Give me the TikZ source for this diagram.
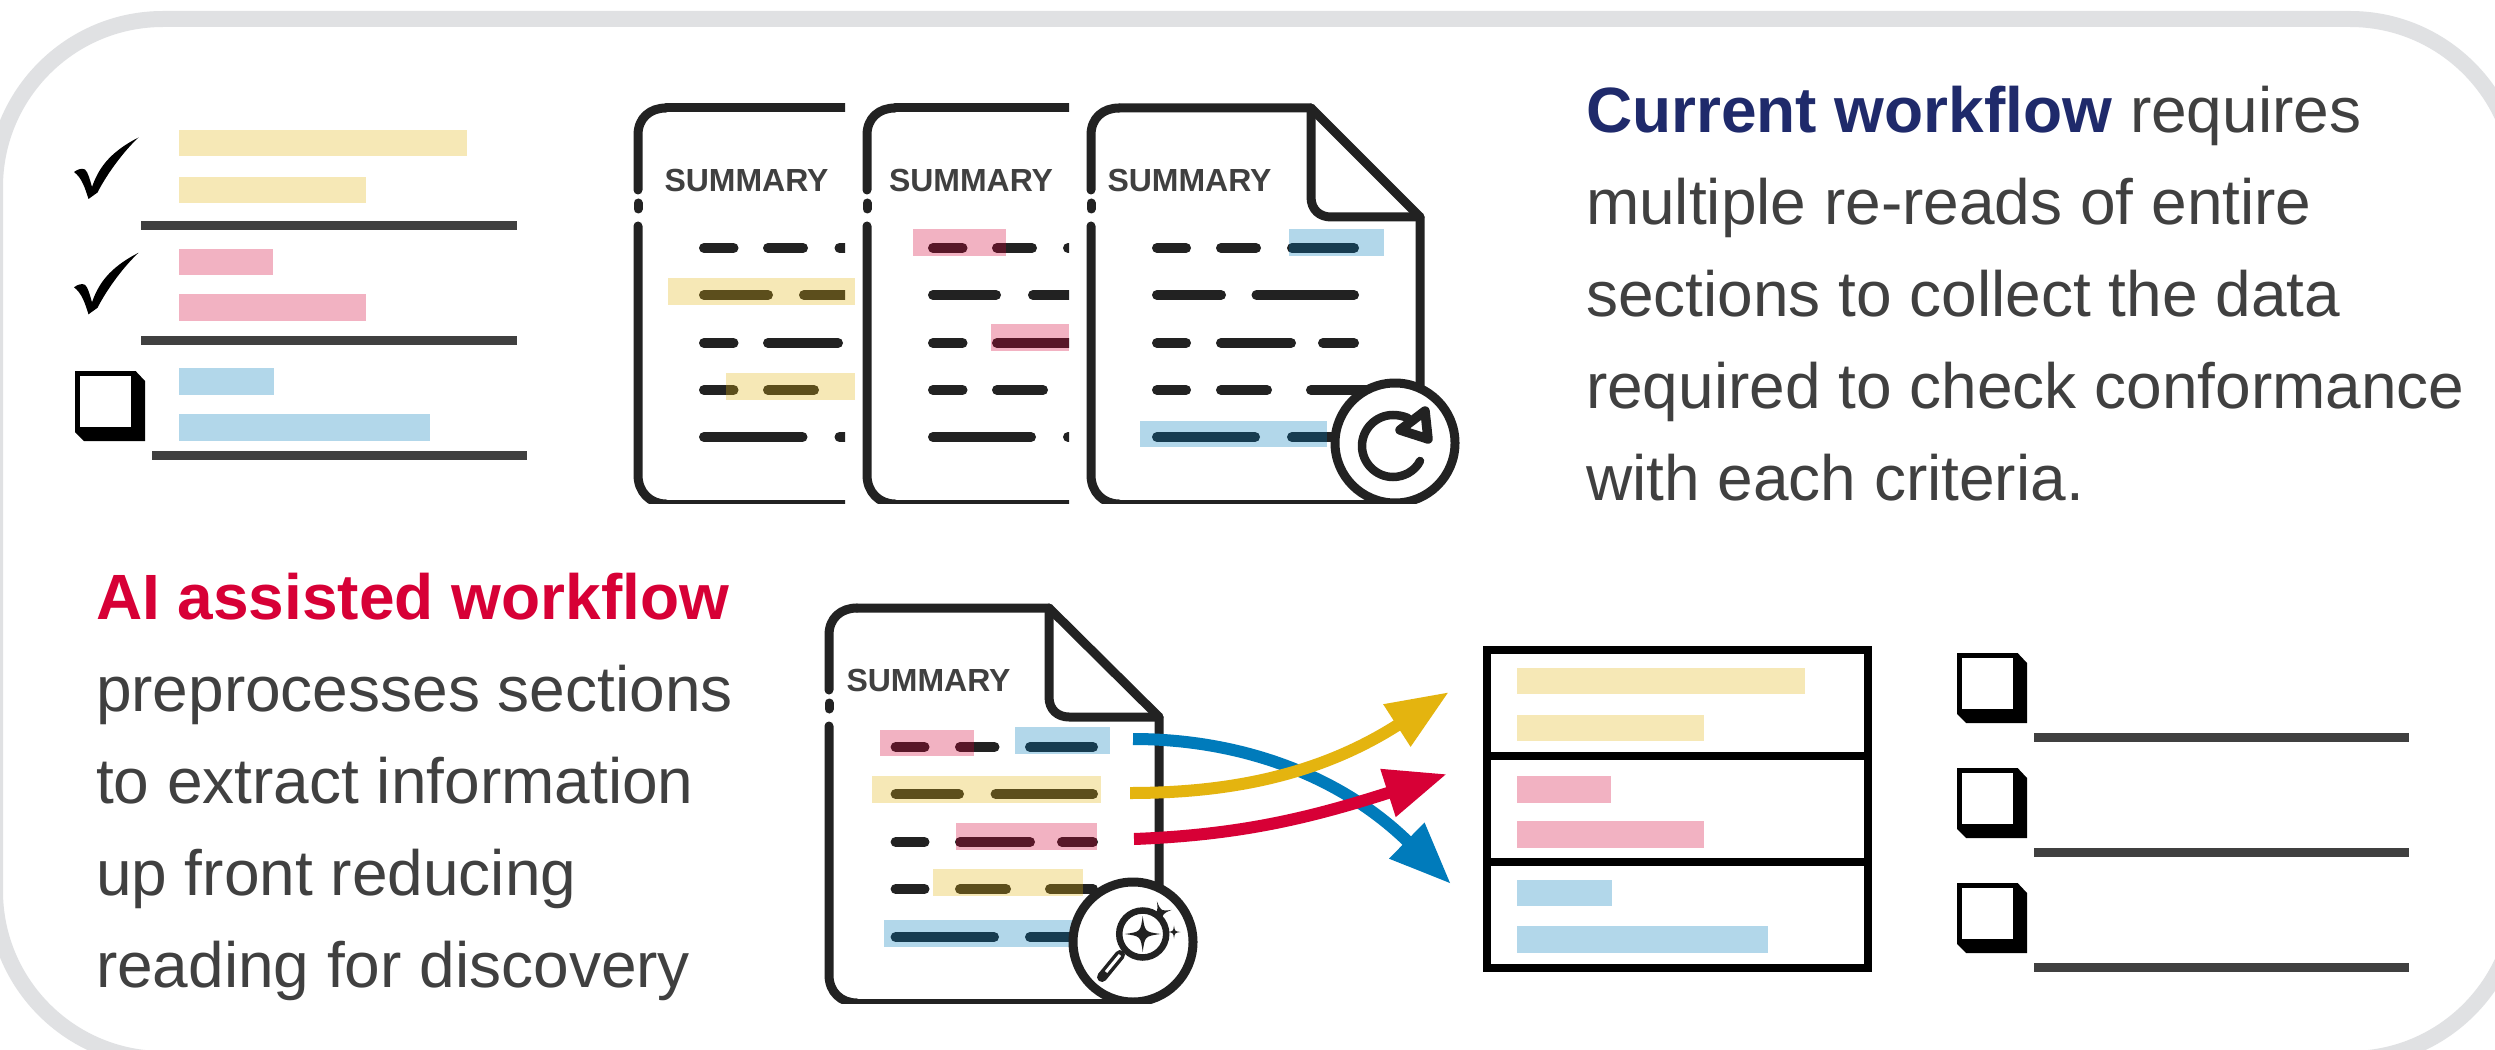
\documentclass[tikz,border=0pt]{standalone}
\usepackage{fontspec}
\setmainfont[Ligatures=NoCommon]{Liberation Sans}
\usetikzlibrary{arrows.meta}
\definecolor{framegray}{HTML}{E0E1E3}
\definecolor{txtgray}{HTML}{404040}
\definecolor{docdark}{HTML}{222222}
\definecolor{hlyellow}{HTML}{E4B40F}
\definecolor{hlred}{HTML}{D70036}
\definecolor{hlblue}{HTML}{007BBB}
\definecolor{navy}{HTML}{1F2A6B}
\tikzset{
  x=0.1mm, y=-0.1mm,
  frameline/.style={draw=framegray, line width=1.6mm},
  docline/.style={draw=docdark, line width=0.9mm, line join=round, line cap=round},
  dashseg/.style={draw=docdark, line width=1mm, line cap=round},
  yel/.style={fill=hlyellow, fill opacity=0.3},
  pnk/.style={fill=hlred, fill opacity=0.3},
  blu/.style={fill=hlblue, fill opacity=0.3},
  rulebar/.style={fill=txtgray},
  boxline/.style={draw=black, line width=0.8mm},
  bodytext/.style={inner sep=0pt, outer sep=0pt, align=left, text=txtgray, font=\fontsize{18.21}{26.18}\selectfont},
  doctitle/.style={inner sep=0pt, outer sep=0pt, anchor=base west, text=txtgray, font=\fontsize{9.1}{11}\selectfont\bfseries},
  flowarrow/.style={line width=1.2mm, -{Triangle[length=6.2mm,width=4.7mm]}},
  iconring/.style={draw=docdark, fill=white, line width=0.9mm},
}
\newcommand{\dashrow}[2]{\foreach \a/\b in {#2} {\draw[dashseg] (\a+5,#1) -- (\b-5,#1);}}
\newcommand{\hlbar}[5]{\fill[#1] (#2,#3) rectangle (#4,#5);}
\newcommand{\docleftside}[3]{% x, y offset, bottom y
  \draw[docline] (#1,190+#2) -- (#1,135+#2) .. controls (#1,118+#2) and (#1+12,108+#2) .. (#1+28,108+#2);
  \draw[docline] (#1,203+#2) -- (#1,209+#2);
  \draw[docline] (#1,226+#2) -- (#1,475+#2) .. controls (#1,492+#2) and (#1+12,#3) .. (#1+28,#3);
}
\newcommand{\chkbox}[2]{%
  \fill[black] (#1,#2) -- (#1+60.6,#2) -- (#1+70,#2+10) -- (#1+70,#2+70) -- (#1+9,#2+70) -- (#1,#2+61) -- cycle;
  \fill[white] (#1+5,#2+5) rectangle (#1+55.5,#2+56);
}
\newcommand{\chkmark}[1]{%
  \fill[black] (74,172+#1) .. controls (78,169+#1) and (82,168+#1) .. (85,169.5+#1)
    .. controls (88,172+#1) and (90,180+#1) .. (92,187+#1)
    .. controls (98,170+#1) and (108,153+#1) .. (138.5,137.5+#1)
    .. controls (125,150+#1) and (108,172+#1) .. (97.5,192.5+#1)
    -- (88.5,199+#1) .. controls (85,188+#1) and (82,178+#1) .. cycle;
}
\newcommand{\sparkle}[4]{% cx, cy, r, rotation
  \fill[docdark, shift={(#1,#2)}, rotate=#4]
    (0,-#3) .. controls (0.12*#3,-0.12*#3) .. (#3,0) .. controls (0.12*#3,0.12*#3) .. (0,#3)
    .. controls (-0.12*#3,0.12*#3) .. (-#3,0) .. controls (-0.12*#3,-0.12*#3) .. cycle;
}
\begin{document}
\begin{tikzpicture}
\useasboundingbox (0,0) rectangle (2495,1050);
\fill[white] (0,0) rectangle (2495,1050);
\begin{scope}
  \clip (0,0) rectangle (2495,1050);
  \draw[frameline, rounded corners=16.8mm] (-5,19) rectangle (2518,1059);
\end{scope}

% ---- top-left checklist
\hlbar{yel}{179}{130}{467}{156}
\hlbar{yel}{179}{177}{366}{203}
\fill[rulebar] (141,221) rectangle (517,230);
\hlbar{pnk}{179}{249}{273}{275}
\hlbar{pnk}{179}{294}{366}{321}
\fill[rulebar] (141,336) rectangle (517,345);
\hlbar{blu}{179}{368}{274}{395}
\hlbar{blu}{179}{414}{430}{441}
\fill[rulebar] (152,451) rectangle (527,460);
\chkmark{0}
\chkmark{115.3}
\chkbox{75}{371}

% ---- document 1
\begin{scope}
  \clip (620,90) rectangle (845,503.5);
  \docleftside{638}{0}{504}
  \draw[docline] (666,108) -- (860,108);
  \draw[docline] (666,504) -- (860,504);
  \dashrow{248}{699/738.5,763/808,834.5/880}
  \dashrow{295}{699/773,799/880}
  \dashrow{343}{699/738.5,763/843}
  \dashrow{390}{699/738.5,763/819}
  \dashrow{437}{699/807.5,834.5/880}
\end{scope}
\node[doctitle] (sum1) at (664.5,192) {SUMMARY};
\hlbar{yel}{668}{278}{855}{305}
\hlbar{yel}{726}{373}{855}{400}

% ---- document 2
\begin{scope}
  \clip (850,90) rectangle (1069,503.5);
  \docleftside{867}{0}{504}
  \draw[docline] (895,108) -- (1090,108);
  \draw[docline] (895,504) -- (1090,504);
  \dashrow{248}{928/967.5,992/1037,1063/1100}
  \dashrow{295}{928/1001,1028/1100}
  \dashrow{343}{928/967.5,992/1100}
  \dashrow{390}{928/967.5,992/1048}
  \dashrow{437}{928/1036,1063/1100}
\end{scope}
\node[doctitle] (sum2) at (889,192) {SUMMARY};
\hlbar{pnk}{913}{229}{1006}{256}
\hlbar{pnk}{991}{324}{1069}{351}

% ---- document 3
\begin{scope}
  \clip (1075,90) rectangle (1480,503.5);
  \docleftside{1091}{0}{504}
  \draw[docline] (1119,108) -- (1311,108) -- (1420,217) -- (1420,400);
  \draw[docline] (1311,108) -- (1311,197) .. controls (1311,210) and (1320,217) .. (1331,217) -- (1420,217);
  \draw[docline] (1119,504) -- (1400,504);
  \dashrow{248}{1152/1191,1216/1261,1287/1359}
  \dashrow{295}{1152/1226,1251.5/1359}
  \dashrow{343}{1152/1191,1216/1296,1318/1359}
  \dashrow{390}{1152/1191,1216/1272,1306/1380}
  \dashrow{437}{1152/1260,1287/1380}
  \hlbar{blu}{1289}{229}{1384}{256}
  \hlbar{blu}{1140}{421}{1327}{447}
  \draw[iconring] (1395,443) circle (60);
  \draw[docdark, line width=0.85mm, line cap=round] (1420,461) .. controls (1415,471) and (1404,477) .. (1393,477) .. controls (1376,477) and (1362,463) .. (1362,446) .. controls (1362,429) and (1376,415) .. (1393,415) .. controls (1398,415) and (1403,416) .. (1408,418);
  \draw[docline, fill=white, line width=0.95mm] (1425,411) -- (1428,439) -- (1400,430) -- cycle;
\end{scope}
\node[doctitle] (sum3) at (1107.5,192) {SUMMARY};

% ---- text block, top right
\node[bodytext, anchor=north west] (topText) at (1586,86) {{\bfseries\color{navy}Current workflow} requires\\multiple re-reads of entire\\sections to collect the data\\required to check conformance\\with each criteria.};

% ---- text block, left
\node[bodytext, anchor=north west] (leftText) at (96,573) {{\bfseries\color{hlred}AI assisted workflow}\\preprocesses sections\\to extract information\\up front reducing\\reading for discovery};

% ---- document 4
\begin{scope}
  \clip (810,590) rectangle (1230,1003);
  \docleftside{829}{500}{1003}
  \draw[docline] (857,608) -- (1049,608) -- (1159,717) -- (1159,900);
  \draw[docline] (1049,608) -- (1049,697) .. controls (1049,710) and (1058,717) .. (1069,717) -- (1159,717);
  \draw[docline] (857,1003) -- (1130,1003);
  \dashrow{747}{890.6/929.5,955/999.5,1025/1098}
  \dashrow{794}{890.6/964,990.6/1098}
  \dashrow{842}{890.6/929.5,955/1035,1057/1098}
  \dashrow{889}{890.6/929.5,955/1011,1045/1098}
  \dashrow{937}{890.6/999,1025/1100}
  \hlbar{pnk}{880}{730}{974}{756}
  \hlbar{blu}{1015}{727}{1110}{754}
  \hlbar{yel}{872}{776}{1101}{803}
  \hlbar{pnk}{956}{823}{1097}{850}
  \hlbar{yel}{933}{869}{1083}{896}
  \hlbar{blu}{884}{920}{1073}{947}
  \draw[iconring] (1133,942) circle (60);
  \sparkle{1160}{913}{12}{15}
  \sparkle{1174}{932}{6.5}{0}
  \draw[docdark, line width=1mm, line cap=round] (1120,955) -- (1102,977);
  \draw[white, line width=0.3mm] (1120,955) -- (1106,972);
  \draw[draw=docdark, fill=white, line width=0.65mm] (1142.7,934) circle (23.5);
  \sparkle{1142.7}{934}{18}{0}
\end{scope}
\node[doctitle] (sum4) at (846.5,691) {SUMMARY};

% ---- extracted table
\hlbar{yel}{1517}{668}{1805}{694}
\hlbar{yel}{1517}{715}{1704}{741}
\hlbar{pnk}{1517}{776}{1611}{803}
\hlbar{pnk}{1517}{821}{1704}{848}
\hlbar{blu}{1517}{880}{1612}{906}
\hlbar{blu}{1517}{926}{1768}{953}
\coordinate (tl) at (1486.5,650);
\coordinate (br) at (1867.5,968);
\draw[boxline] (tl) rectangle (br);
\draw[boxline] (1486.5,756) -- (1867.5,756);
\draw[boxline] (1486.5,862) -- (1867.5,862);

% ---- arrows from document to table
\coordinate (blueS) at (1133,739);
\coordinate (blueT) at (1451,884);
\coordinate (yelS) at (1130,793);
\coordinate (yelT) at (1449,692);
\coordinate (redS) at (1134,839);
\coordinate (redT) at (1447,774);
\draw[flowarrow, draw=hlblue] (blueS) .. controls (1240,739) and (1340,775) .. (blueT);
\draw[flowarrow, draw=hlyellow] (yelS) .. controls (1230,793) and (1320,775) .. (yelT);
\draw[flowarrow, draw=hlred] (redS) .. controls (1240,835) and (1310,818) .. (redT);

% ---- right checklist
\chkbox{1957}{653}
\chkbox{1957}{768}
\chkbox{1957}{883}
\fill[rulebar] (2034,733) rectangle (2409,742);
\fill[rulebar] (2034,848) rectangle (2409,857);
\fill[rulebar] (2034,963) rectangle (2409,972);
\end{tikzpicture}
\end{document}
